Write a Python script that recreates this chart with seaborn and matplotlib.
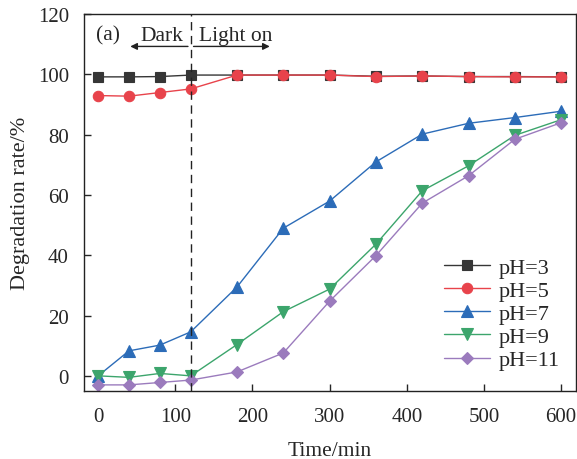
import matplotlib
matplotlib.use("Agg")
import matplotlib.pyplot as plt
import seaborn as sns
import pandas as pd

# Sampling times (min)
time_min = [0, 40, 80, 120, 180, 240, 300, 360, 420, 480, 540, 600]

# Degradation rate (%) for each initial pH
ph3 = [99.2, 99.2, 99.3, 99.8, 99.8, 99.8, 99.8, 99.4, 99.5, 99.3, 99.3, 99.2]
ph5 = [93.0, 92.8, 94.0, 95.2, 99.8, 99.8, 99.8, 99.3, 99.5, 99.3, 99.2, 99.2]
ph7 = [0.0, 8.3, 10.2, 14.6, 29.5, 49.0, 58.0, 71.0, 80.2, 83.8, 85.7, 87.8]
ph9 = [0.0, -0.5, 0.8, 0.0, 10.4, 21.3, 28.8, 43.7, 61.4, 69.7, 79.8, 85.0]
ph11 = [-3.0, -3.0, -2.2, -1.4, 1.3, 7.6, 24.8, 39.9, 57.3, 66.4, 78.5, 84.0]

labels = ["pH=3", "pH=5", "pH=7", "pH=9", "pH=11"]
series = [ph3, ph5, ph7, ph9, ph11]
colors = ["#363636", "#e8434b", "#2c6cb8", "#3ca56c", "#9b7bbd"]
markers = ["s", "o", "^", "v", "D"]
msizes = [6.5, 7.5, 8, 8, 6.5]

x_ticks = [0, 100, 200, 300, 400, 500, 600]
y_ticks = [0, 20, 40, 60, 80, 100, 120]

df = pd.concat(
    [pd.DataFrame({"Time": time_min, "Rate": vals, "pH": lab})
     for lab, vals in zip(labels, series)],
    ignore_index=True,
)

sns.set_style("ticks")
plt.rcParams["font.family"] = ["Liberation Serif", "DejaVu Serif"]
plt.rcParams["mathtext.fontset"] = "stix"

fig = plt.figure(figsize=(5.77, 4.6), dpi=100)
ax = fig.add_axes([0.146, 0.148, 0.852, 0.819])

for lab, col, mk, ms in zip(labels, colors, markers, msizes):
    sns.lineplot(
        data=df[df["pH"] == lab], x="Time", y="Rate", ax=ax,
        color=col, marker=mk, markersize=ms, markeredgecolor=col,
        markeredgewidth=0.8, linewidth=1.0, label=lab,
    )

ax.set_xlim(-18, 619)
ax.set_ylim(-5, 120)
ax.set_xticks(x_ticks)
ax.set_yticks(y_ticks)
ax.tick_params(direction="in", length=5, width=1, labelsize=15)
ax.tick_params(axis="x", pad=11.5)
ax.tick_params(axis="y", pad=11)
for s in ax.spines.values():
    s.set_linewidth(1.0)
    s.set_color("#222222")

ax.set_xlabel("Time/min", fontsize=15.5, labelpad=11)
ax.set_ylabel("Degradation rate/%", fontsize=16, labelpad=6)

# Dark / light boundary
ax.axvline(120, color="#222222", linestyle=(0, (6, 4)), linewidth=1.0)
ax.text(-3, 113, "(a)", fontsize=15.5, va="center", ha="left")
ax.text(83, 113, "Dark", fontsize=15.5, va="center", ha="center")
ax.text(178, 113, "Light on", fontsize=15.5, va="center", ha="center")
arrow_kw = dict(arrowstyle="-|>", color="#222222", lw=1.0, mutation_scale=10)
ax.annotate("", xy=(38, 109.3), xytext=(120, 109.3), arrowprops=arrow_kw)
ax.annotate("", xy=(226, 109.3), xytext=(120, 109.3), arrowprops=arrow_kw)

ax.legend(loc="lower right", bbox_to_anchor=(1.0, 0.013), frameon=False,
          fontsize=16, handlelength=2.1, labelspacing=0.12,
          borderaxespad=0.3, handletextpad=0.4)

fig.savefig("out.png", dpi=100)
